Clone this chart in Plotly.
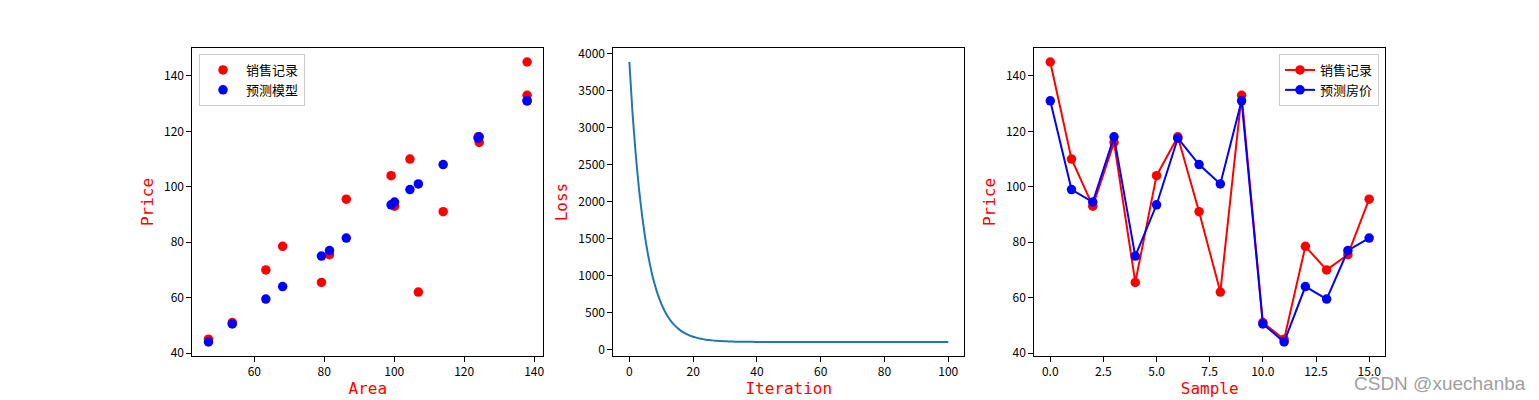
import plotly.graph_objects as go

# ---- data ----
samples = list(range(16))
area = [138.0, 104.5, 100.1, 124.3, 79.2, 99.1, 124.0, 114.0, 106.9, 138.0,
        53.7, 46.9, 68.1, 63.3, 81.5, 86.3]
price_actual = [145, 110, 93, 116, 65.5, 104, 118, 91, 62, 133,
                51, 45, 78.5, 70, 75.5, 95.5]
price_pred = [131, 99, 94.5, 118, 75, 93.5, 117.5, 108, 101, 131,
              50.5, 44, 64, 59.5, 77, 81.5]
iterations = list(range(101))
loss = [3890, 3200, 2642, 2184, 1809, 1501, 1249, 1042, 873, 734,
        620, 526, 449, 387, 335, 293, 258, 230, 206, 187,
        171, 159, 148, 139, 132, 127, 122, 118, 115, 112,
        110, 108, 107, 105, 104, 104, 103, 102, 102, 102,
        101, 101, 101, 101, 101, 101, 101, 101, 101, 101,
        100, 100, 100, 100, 100, 100, 100, 100, 100, 100,
        100, 100, 100, 100, 100, 100, 100, 100, 100, 100,
        100, 100, 100, 100, 100, 100, 100, 100, 100, 100,
        100, 100, 100, 100, 100, 100, 100, 100, 100, 100,
        100, 100, 100, 100, 100, 100, 100, 100, 100, 100, 100]

W, H = 1539, 400
RED = "#ff0000"
BLUE = "#0000ff"
TICKFONT = dict(family="Noto Sans CJK SC", size=12, color="black")
TITLEFONT = dict(family="DejaVu Sans Mono", size=16, color="red")

fig = go.Figure()

# left: scatter
fig.add_trace(go.Scatter(x=area, y=price_actual, mode="markers", name="销售记录",
                         marker=dict(color=RED, size=9.5), xaxis="x", yaxis="y", legend="legend"))
fig.add_trace(go.Scatter(x=area, y=price_pred, mode="markers", name="预测模型",
                         marker=dict(color=BLUE, size=9.5), xaxis="x", yaxis="y", legend="legend"))
# middle: loss
fig.add_trace(go.Scatter(x=iterations, y=loss, mode="lines", showlegend=False,
                         line=dict(color="#1f77b4", width=2, shape="spline", smoothing=0.6),
                         xaxis="x2", yaxis="y2"))
# right: lines
fig.add_trace(go.Scatter(x=samples, y=price_actual, mode="lines+markers", name="销售记录",
                         line=dict(color=RED, width=2), marker=dict(color=RED, size=9.5),
                         xaxis="x3", yaxis="y3", legend="legend2"))
fig.add_trace(go.Scatter(x=samples, y=price_pred, mode="lines+markers", name="预测房价",
                         line=dict(color=BLUE, width=2), marker=dict(color=BLUE, size=9.5),
                         xaxis="x3", yaxis="y3", legend="legend2"))

def ax(domain, rng, dtick, title, anchor, standoff, tickformat=None):
    d = dict(domain=domain, range=rng, dtick=dtick, tick0=0, showgrid=False, zeroline=False,
             showline=True, linecolor="black", linewidth=1, mirror=True,
             ticks="outside", ticklen=5, tickcolor="black", tickwidth=1,
             tickfont=TICKFONT, anchor=anchor, automargin=False,
             title=dict(text=title, font=TITLEFONT, standoff=standoff))
    if tickformat:
        d["tickformat"] = tickformat
    return d

xd1 = [192.4 / W, 543.2 / W]
xd2 = [613.4 / W, 964.2 / W]
xd3 = [1034.3 / W, 1385.1 / W]
yd = [1 - 356 / H, 1 - 48 / H]

fig.update_layout(
    width=W, height=H, margin=dict(l=0, r=0, t=0, b=0, autoexpand=False),
    paper_bgcolor="white", plot_bgcolor="white",
    xaxis=ax(xd1, [42.3, 142.6], 20, "Area", "y", 4),
    yaxis=ax(yd, [38.95, 150.05], 20, "Price", "x", 6),
    xaxis2=ax(xd2, [-5, 105], 20, "Iteration", "y2", 4),
    yaxis2=ax(yd, [-89.5, 4079.5], 500, "Loss", "x2", 6),
    xaxis3=ax(xd3, [-0.75, 15.75], 2.5, "Sample", "y3", 4, ".1f"),
    yaxis3=ax(yd, [38.95, 150.05], 20, "Price", "x3", 6),
    legend=dict(x=199 / W, y=1 - 54 / H, xanchor="left", yanchor="top", itemwidth=36,
                bgcolor="rgba(255,255,255,0.8)", bordercolor="#cccccc", borderwidth=1,
                font=dict(family="Noto Sans CJK SC", size=13, color="black")),
    legend2=dict(x=1379 / W, y=1 - 54 / H, xanchor="right", yanchor="top",
                 bgcolor="rgba(255,255,255,0.8)", bordercolor="#cccccc", borderwidth=1,
                 font=dict(family="Noto Sans CJK SC", size=13, color="black")),
    annotations=[dict(text="CSDN @xuechanba", x=1440 / W, y=1 - 383 / H, xref="paper", yref="paper",
                      showarrow=False, xanchor="center", yanchor="middle",
                      font=dict(family="Liberation Sans", size=19, color="#a0a0a0"))],
)

fig.write_html("out.html", config={"displayModeBar": False},
               post_script="document.body.style.margin='0';document.body.style.overflow='hidden';")
